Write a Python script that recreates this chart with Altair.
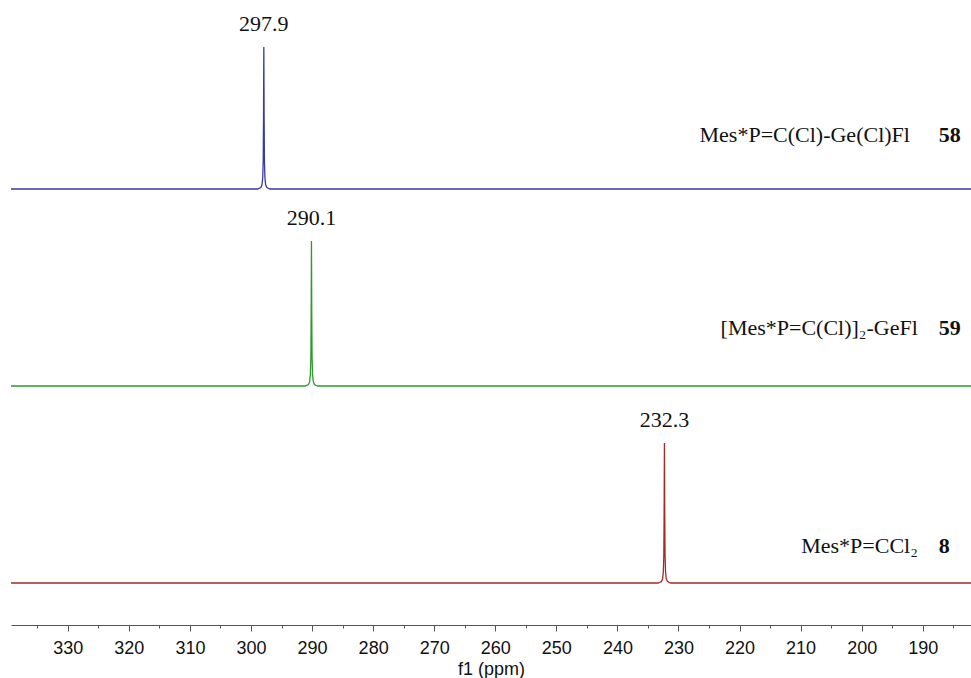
import altair as alt
import pandas as pd

# Three stacked 31P NMR spectra, one peak each
series = ["58", "59", "8"]
compounds = ["Mes*P=C(Cl)-Ge(Cl)Fl", "[Mes*P=C(Cl)]\u2082-GeFl", "Mes*P=CCl\u2082"]
peak_ppm = [297.9, 290.1, 232.3]
peak_height = [1.42, 1.45, 1.40]
baseline_offset = [4.36, 2.39, 0.42]
colors = ["#3a3aa8", "#2e9b2e", "#a32a2a"]

# Line shape around each peak: ppm offset from centre and relative intensity
shape_dppm = [-1.0, -0.5, -0.3, -0.18, -0.1, -0.05, 0.0, 0.05, 0.1, 0.18, 0.3, 0.5, 1.0]
shape_rel = [0.0, 0.01, 0.03, 0.08, 0.2, 0.5, 1.0, 0.5, 0.2, 0.08, 0.03, 0.01, 0.0]

ppm_range = [339.3, 182.1]
tick_values = list(range(190, 331, 10))
minor_values = list(range(185, 336, 10))

# Label anchors (ppm, intensity) for compound names and numbers
name_ppm = [192.1, 190.8, 190.8]
number_ppm = [187.4, 187.4, 187.4]
name_y = [4.83, 2.90, 0.72]

rows = []
for s, p, h, off in zip(series, peak_ppm, peak_height, baseline_offset):
    rows.append({"series": s, "ppm": ppm_range[0], "y": off})
    for d, r in zip(shape_dppm, shape_rel):
        rows.append({"series": s, "ppm": p + d, "y": off + h * r})
    rows.append({"series": s, "ppm": ppm_range[1], "y": off})
spec = pd.DataFrame(rows)

peaks = pd.DataFrame({
    "series": series,
    "ppm": peak_ppm,
    "top": [o + h for o, h in zip(baseline_offset, peak_height)],
    "label": [f"{p:.1f}" for p in peak_ppm],
})
names = pd.DataFrame({
    "series": series,
    "name": compounds,
    "name_ppm": name_ppm,
    "number_ppm": number_ppm,
    "y": name_y,
})

x_scale = alt.Scale(domain=[ppm_range[1], ppm_range[0]], reverse=True, nice=False, zero=False)
y_scale = alt.Scale(domain=[0, 6.25], nice=False, zero=False)

lines = alt.Chart(spec).mark_line(strokeWidth=1.3, interpolate="linear").encode(
    x=alt.X("ppm:Q", scale=x_scale, title="f1 (ppm)",
            axis=alt.Axis(values=tick_values, orient="bottom", tickSize=6,
                          grid=False, domainColor="#555555", tickColor="#555555",
                          labelFont="Liberation Sans", labelFontSize=18, labelColor="#111111",
                          labelPadding=8, labelFlush=False, labelOverlap=False,
                          titleFont="Liberation Sans", titleFontSize=18, titleFontWeight="normal",
                          titleColor="#111111", titleY=49, titleBaseline="alphabetic")),
    y=alt.Y("y:Q", scale=y_scale, axis=None),
    color=alt.Color("series:N", scale=alt.Scale(domain=series, range=colors), legend=None),
)

# Second axis carrying only the short intermediate ticks
minor_axis = alt.Chart(spec).mark_line(opacity=0).encode(
    x=alt.X("ppm:Q", scale=x_scale, title=None,
            axis=alt.Axis(values=minor_values, orient="bottom", tickSize=3, labels=False,
                          domain=False, grid=False, tickColor="#555555")),
    y=alt.Y("y:Q", scale=y_scale, axis=None),
    detail="series:N",
)

peak_labels = alt.Chart(peaks).mark_text(
    font="Liberation Serif", fontSize=22, dy=-16, baseline="alphabetic", color="#111111"
).encode(
    x=alt.X("ppm:Q", scale=x_scale, axis=None),
    y=alt.Y("top:Q", scale=y_scale, axis=None),
    text="label:N",
)

name_labels = alt.Chart(names).mark_text(
    font="Liberation Serif", fontSize=22, align="right", baseline="alphabetic", color="#111111"
).encode(
    x=alt.X("name_ppm:Q", scale=x_scale, axis=None),
    y=alt.Y("y:Q", scale=y_scale, axis=None),
    text="name:N",
)

number_labels = alt.Chart(names).mark_text(
    font="Liberation Serif", fontSize=22, fontWeight="bold", align="left",
    baseline="alphabetic", color="#111111"
).encode(
    x=alt.X("number_ppm:Q", scale=x_scale, axis=None),
    y=alt.Y("y:Q", scale=y_scale, axis=None),
    text="series:N",
)

chart = alt.layer(minor_axis, lines, peak_labels, name_labels, number_labels).resolve_axis(
    x="independent"
).properties(
    width=960, height=625,
    autosize=alt.AutoSizeParams(type="none"),
    padding={"left": 11, "top": 0, "right": 0, "bottom": 53},
).configure(background="white").configure_view(stroke=None)

chart.save("out.html", embed_options={"renderer": "svg", "actions": False})
